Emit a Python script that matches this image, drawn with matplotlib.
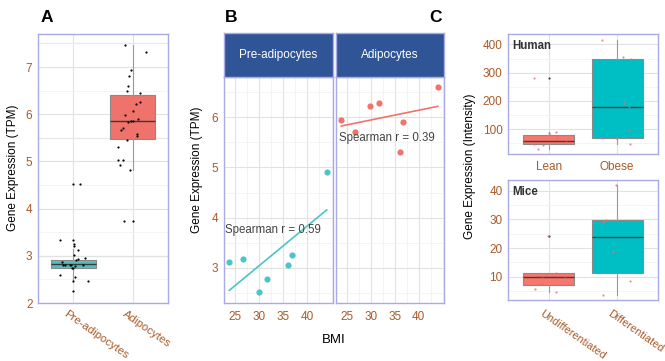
import numpy as np
import matplotlib.pyplot as plt
import matplotlib.transforms as mtransforms
from matplotlib.ticker import MultipleLocator

plt.rcParams['font.family'] = ['Liberation Sans', 'DejaVu Sans']

# ---- Panel A: TPM per cell type ----
a_groups = ['Pre-adipocytes', 'Adipocytes']
a_pre = [4.52, 4.52, 3.34, 3.34, 3.24, 3.21, 3.12, 3.02, 2.94, 2.91, 2.95, 2.87,
         2.80, 2.80, 2.80, 2.79, 2.81, 2.80, 2.75, 2.75, 2.60, 2.55, 2.47, 2.47, 2.26]
a_pre_jit = [0.00, 0.11, -0.22, 0.00, 0.01, 0.01, 0.08, 0.01, 0.07, 0.05, 0.20, -0.20,
             -0.18, -0.14, -0.04, 0.02, -0.06, 0.16, -0.03, -0.01, -0.23, 0.03, 0.00, 0.24, 0.00]
a_adi = [7.46, 7.32, 6.93, 6.80, 6.59, 6.50, 6.44, 6.25, 6.22, 6.06, 5.99, 5.90, 5.86,
         5.85, 5.83, 5.70, 5.66, 5.58, 5.53, 5.46, 5.31, 5.02, 5.02, 4.92, 4.81, 3.73, 3.73]
a_adi_jit = [-0.12, 0.23, -0.02, -0.06, -0.08, -0.10, 0.13, 0.12, 0.06, 0.01, -0.12, 0.10, 0.01,
             -0.03, -0.08, -0.17, -0.19, 0.07, 0.07, -0.10, -0.25, -0.25, -0.16, -0.22, -0.04, -0.15, 0.00]
# box stats: q1, median, q3, lower whisker, upper whisker
a_box = [(2.75, 2.82, 2.92, 2.47, 3.15), (5.47, 5.85, 6.40, 4.81, 7.46)]
a_hlines = [7.5, 5.5, 3.0]

# ---- Panel B: TPM vs BMI ----
b_bmi = [23.8, 26.6, 29.9, 31.6, 36.0, 36.7, 44.0]
b_pre = [3.12, 3.17, 2.52, 2.77, 3.05, 3.25, 4.90]
b_adi = [5.95, 5.70, 6.23, 6.28, 5.30, 5.91, 6.60]
b_facets = ['Pre-adipocytes', 'Adipocytes']
b_rho = ['Spearman r = 0.59', 'Spearman r = 0.39']

# ---- Panel C: intensity, human and mice ----
c_h_groups = ['Lean', 'Obese']
c_h_lean = [282, 90.6, 85, 73, 47, 43, 31, 55, 79]
c_h_lean_jit = [-0.22, 0.11, 0.00, 0.12, -0.22, -0.08, -0.16, 0.25, 0.01]
c_h_obese = [415, 356, 349, 193, 179, 96, 69, 69, 47]
c_h_obese_jit = [-0.22, 0.09, 0.21, 0.10, 0.18, 0.17, -0.22, -0.01, 0.19]
c_h_box = [(46, 59, 81, 31, 91, [282]), (69, 179, 349, 47, 415, [])]

c_m_groups = ['Undifferentiated', 'Differentiated']
c_m_undiff = [24.3, 11.2, 11.0, 10.3, 9.4, 7.4, 5.6, 4.7]
c_m_undiff_jit = [-0.02, 0.11, -0.04, 0.24, -0.10, -0.10, -0.21, 0.11]
c_m_diff = [42.0, 29.8, 29.2, 18.7, 8.6, 3.8]
c_m_diff_jit = [-0.01, -0.17, -0.21, -0.06, 0.19, -0.20]
c_m_box = [(7.1, 9.9, 11.2, 4.7, 11.2, [24.3]), (11.2, 23.8, 29.7, 3.8, 42.0, [])]

teal = '#00BFC4'
red = '#F8766D'
frame = '#AAAAE6'
tick_col = '#A85A28'
strip_col = '#2F5597'

W, H = 665, 361
fig = plt.figure(figsize=(W / 100, H / 100), dpi=100)


def px_axes(l, r, t, b):
    return fig.add_axes([l / W, 1 - b / H, (r - l) / W, (b - t) / H])


def style(ax):
    for s in ax.spines.values():
        s.set_color(frame)
        s.set_linewidth(1.0)
    ax.tick_params(which='both', length=0, labelcolor=tick_col, labelsize=8.5, pad=4)
    ax.set_axisbelow(True)
    ax.grid(which='major', color='#E2E2E2', lw=0.8)
    ax.grid(which='minor', color='#F2F2F2', lw=0.6)


def make_stats(rows):
    out = []
    for r in rows:
        d = dict(q1=r[0], med=r[1], q3=r[2], whislo=r[3], whishi=r[4])
        d['fliers'] = r[5] if len(r) > 5 else []
        out.append(d)
    return out


def draw_boxes(ax, rows, colors, med_col):
    bp = ax.bxp(make_stats(rows), positions=[0, 1], widths=0.75, patch_artist=True,
                showcaps=False,
                boxprops=dict(edgecolor='#8A8A8A', linewidth=0.8),
                whiskerprops=dict(color='#9A9A9A', linewidth=0.8),
                medianprops=dict(color=med_col, linewidth=1.0),
                flierprops=dict(marker='o', markersize=1.6, markerfacecolor='#444444',
                                markeredgecolor='none'))
    for patch, c in zip(bp['boxes'], colors):
        patch.set_facecolor(c)
    return bp


def slant_labels(ax, labels, angle, dx, dy, size):
    # ggplot style slanted category labels, anchored at their top-left corner
    ax.set_xticklabels([''] * len(labels))
    base = mtransforms.blended_transform_factory(ax.transData, ax.transAxes)
    shift = mtransforms.ScaledTranslation(dx / 100, -dy / 100, fig.dpi_scale_trans)
    for i, lab in enumerate(labels):
        ax.text(i, 0, lab, transform=base + shift, rotation=angle, ha='left', va='top',
                rotation_mode='anchor', fontsize=size, color=tick_col, clip_on=False)


# ---------- A ----------
axA = px_axes(38, 168, 34, 303)
style(axA)
for y in a_hlines:
    axA.axhline(y, color='#BDBDBD', lw=0.8, zorder=0.5)
draw_boxes(axA, a_box, ['#4FC0C0', '#EF736B'], '#3A3A3A')
axA.scatter(np.array(a_pre_jit), a_pre, s=2.5, c='black', zorder=4, linewidths=0)
axA.scatter(1 + np.array(a_adi_jit), a_adi, s=2.5, c='black', zorder=4, linewidths=0)
axA.set_xlim(-0.6, 1.6)
axA.set_ylim(2.0, 7.7)
axA.yaxis.set_major_locator(MultipleLocator(1))
axA.yaxis.set_minor_locator(MultipleLocator(0.5))
axA.set_xticks([0, 1])
slant_labels(axA, a_groups, -35, -6, 6, 8.2)
axA.grid(axis='x', which='minor', visible=False)

# ---------- B ----------
axB1 = px_axes(224, 333, 77, 303)
axB2 = px_axes(336, 444, 77, 303)
for ax, yv, col, lab, lx, ly in [
        (axB1, b_pre, '#4DC4C8', b_rho[0], 23.0, 3.76),
        (axB2, b_adi, '#F0736C', b_rho[1], 23.4, 5.58)]:
    style(ax)
    ax.scatter(b_bmi, yv, s=20, color=col, zorder=3, linewidths=0)
    k, c0 = np.polyfit(b_bmi, yv, 1)
    xs = np.array([min(b_bmi), max(b_bmi)])
    ax.plot(xs, k * xs + c0, color=col, lw=1.2, zorder=2)
    ax.text(lx, ly, lab, fontsize=8.3, color='#444444', va='center', ha='left', zorder=4)
    ax.set_xlim(22.7, 45.3)
    ax.set_ylim(2.3, 6.8)
    ax.xaxis.set_minor_locator(MultipleLocator(2.5))
    ax.set_xticks([25, 30, 35, 40])
    ax.yaxis.set_minor_locator(MultipleLocator(0.5))
    ax.set_yticks([3, 4, 5, 6])
    ax.tick_params(axis='x', pad=6)
axB2.tick_params(axis='y', labelleft=False)
for l, r, name in [(224, 333, b_facets[0]), (336, 444, b_facets[1])]:
    st = px_axes(l, r, 33, 77)
    st.set_facecolor(strip_col)
    st.set_xticks([])
    st.set_yticks([])
    for s in st.spines.values():
        s.set_color(frame)
        s.set_linewidth(1.0)
    st.text(0.5, 0.5, name, color='white', fontsize=8.5, ha='center', va='center',
            transform=st.transAxes)
fig.text(334 / W, 1 - 340 / H, 'BMI', ha='center', va='center', fontsize=9.5)

# ---------- C ----------
axC1 = px_axes(508, 658, 34, 154)
axC2 = px_axes(508, 658, 180, 300)
for ax, rows, vals, jits, title in [
        (axC1, c_h_box, [c_h_lean, c_h_obese], [c_h_lean_jit, c_h_obese_jit], 'Human'),
        (axC2, c_m_box, [c_m_undiff, c_m_diff], [c_m_undiff_jit, c_m_diff_jit], 'Mice')]:
    style(ax)
    draw_boxes(ax, rows, [red, teal], '#3F3F3F')
    for i in range(2):
        ax.scatter(i + np.array(jits[i]), vals[i], s=2.5, color='#F26B63', alpha=0.8,
                   zorder=4, linewidths=0)
    ax.set_xlim(-0.6, 1.6)
    ax.set_xticks([0, 1])
    ax.grid(axis='x', which='minor', visible=False)
    ax.text(0.03, 0.95, title, transform=ax.transAxes, fontsize=8.3, fontweight='bold',
            color='#333333', ha='left', va='top')
axC1.set_ylim(12, 437)
axC1.set_yticks([100, 200, 300, 400])
axC1.yaxis.set_minor_locator(MultipleLocator(50))
axC1.set_xticklabels(c_h_groups)
axC1.tick_params(axis='x', pad=5)
axC2.set_ylim(1.9, 43.7)
axC2.set_yticks([10, 20, 30, 40])
axC2.yaxis.set_minor_locator(MultipleLocator(5))
slant_labels(axC2, c_m_groups, -35, -5, 8, 7.8)

# ---------- shared labels ----------
fig.text(13 / W, 1 - 168 / H, 'Gene Expression (TPM)', rotation=90, ha='center', va='center', fontsize=8.5)
fig.text(197 / W, 1 - 170 / H, 'Gene Expression (TPM)', rotation=90, ha='center', va='center', fontsize=8.5)
fig.text(470 / W, 1 - 166 / H, 'Gene Expression (Intensity)', rotation=90, ha='center', va='center', fontsize=8.5)
for x, letter in [(41, 'A'), (225, 'B'), (429, 'C')]:
    fig.text(x / W, 1 - 18 / H, letter, fontsize=12.5, fontweight='bold', ha='left', va='center')

fig.savefig('out.png', dpi=100)
